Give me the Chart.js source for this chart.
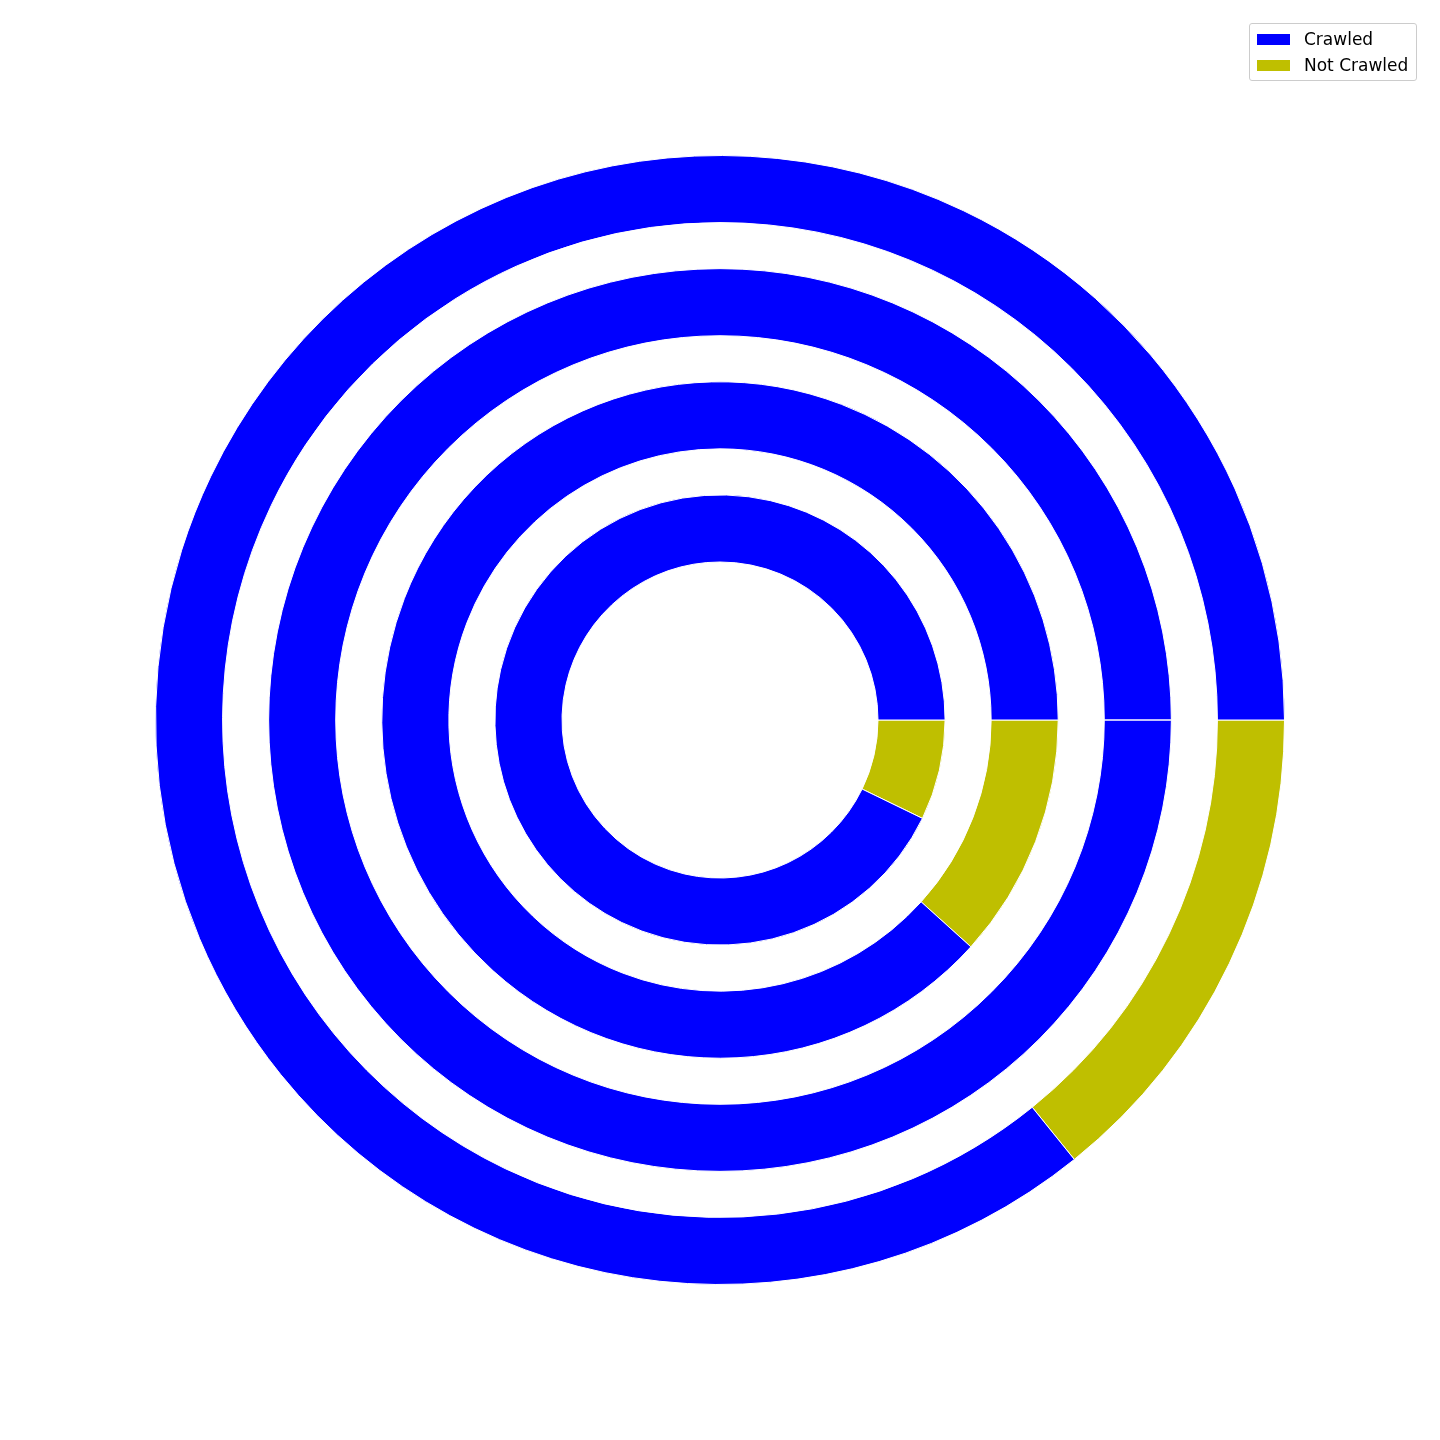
<!DOCTYPE html>
<html>
<head>
<meta charset="utf-8">
<script src="https://cdn.jsdelivr.net/npm/chart.js@4"></script>
<style>
  html, body { margin: 0; padding: 0; background: #fff; }
  #wrap { position: relative; width: 1440px; height: 1440px; }
  #c { position: absolute; left: 0; top: 0; }
  #legend {
    position: absolute; left: 1249px; top: 23px; width: 166px; height: 56px;
    border: 1px solid #cccccc; border-radius: 3px; background: rgba(255,255,255,0.8);
    font-family: "DejaVu Sans", sans-serif; font-size: 17px; color: #000;
  }
  .item { position: absolute; left: 0; height: 20px; line-height: 20px; white-space: nowrap; }
  .sw { position: absolute; left: 7px; top: 5px; width: 33px; height: 11px; }
  .lbl { position: absolute; left: 54px; top: 0; }
</style>
</head>
<body>
<div id="wrap">
  <canvas id="c" width="1440" height="1440"></canvas>
  <div id="legend"></div>
</div>
<script>
// Data (rings listed from outermost to innermost)
const categories = ['Not Crawled', 'Crawled'];
const legendOrder = ['Crawled', 'Not Crawled'];
const crawled    = [85.8, 100, 88.3, 92.8];
const notCrawled = [14.2, 0, 11.7, 7.2];

const colors = { 'Crawled': '#0000ff', 'Not Crawled': '#bfbf00' };

const ringWeight = 67;
const gapWeight = 46;

const datasets = [];
crawled.forEach((c, i) => {
  if (i > 0) {
    datasets.push({
      data: [1],
      backgroundColor: 'rgba(0,0,0,0)',
      borderWidth: 0,
      weight: gapWeight
    });
  }
  datasets.push({
    data: [notCrawled[i], c],
    backgroundColor: categories.map(k => colors[k]),
    borderColor: '#ffffff',
    borderWidth: 1,
    weight: ringWeight
  });
});

new Chart(document.getElementById('c'), {
  type: 'doughnut',
  data: { labels: categories, datasets },
  options: {
    responsive: false,
    animation: false,
    events: [],
    rotation: 90,
    radius: 564.5,
    cutout: (158 / 564.5 * 100) + '%',
    layout: { padding: 0 },
    plugins: {
      legend: { display: false },
      tooltip: { enabled: false }
    }
  }
});

// Legend
const lg = document.getElementById('legend');
legendOrder.forEach((name, i) => {
  const it = document.createElement('div');
  it.className = 'item';
  it.style.top = (5 + i * 26) + 'px';
  it.style.width = '100%';
  const sw = document.createElement('span');
  sw.className = 'sw';
  sw.style.background = colors[name];
  const tx = document.createElement('span');
  tx.className = 'lbl';
  tx.textContent = name;
  it.appendChild(sw);
  it.appendChild(tx);
  lg.appendChild(it);
});
</script>
</body>
</html>
